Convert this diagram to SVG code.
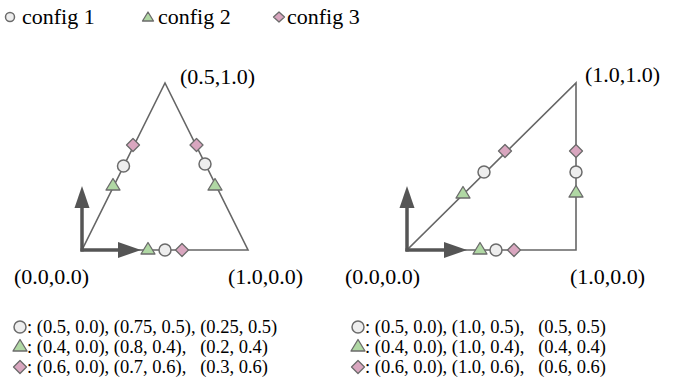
<svg xmlns="http://www.w3.org/2000/svg" xmlns:xlink="http://www.w3.org/1999/xlink" width="698" height="386" viewBox="0 0 698 386">
<style>
text{font-family:"Liberation Serif","Times New Roman",serif;fill:#000;white-space:pre}
.lbl{font-size:22px}
.leg{font-size:18.5px}
.edge{stroke:#666;stroke-width:1.6;fill:none}
.axis{stroke:#555;stroke-width:3.5;fill:none}
.head{fill:#555}
.c{fill:#eeeeee;stroke:#6b6b6b;stroke-width:1.5}
.t{fill:#b0d8a4;stroke:#6b6b6b;stroke-width:1.3;stroke-linejoin:round}
.d{fill:#d9a6bf;stroke:#6b6b6b;stroke-width:1.3;stroke-linejoin:round}
</style>
<defs>
<circle id="mc" class="c" cx="0" cy="0" r="6"/>
<polygon id="mt" class="t" points="0,-6.5 7,5 -7,5"/>
<polygon id="md" class="d" points="0,-6.5 6.5,0 0,6.5 -6.5,0"/>
</defs>

<g id="legend">
<circle class="c" cx="10" cy="17" r="4.5"/>
<text class="lbl" x="22" y="24">config 1</text>
<polygon class="t" points="148,12 153.5,21 142.5,21"/>
<text class="lbl" x="158" y="24">config 2</text>
<polygon class="d" points="279,12 284.5,17 279,22 273.5,17"/>
<text class="lbl" x="287" y="24">config 3</text>
</g>

<g id="connectors">
<polygon class="edge" points="82,250 248,250 165,83"/>
<polygon class="edge" points="407,250 576,250 576,83"/>
<line class="axis" x1="82" y1="251.5" x2="82" y2="206"/>
<polygon class="head" points="82,186 74.5,208 89.5,208"/>
<line class="axis" x1="80.5" y1="250" x2="120" y2="250"/>
<polygon class="head" points="141,250 118,242 118,258"/>
<line class="axis" x1="407" y1="251.5" x2="407" y2="206"/>
<polygon class="head" points="407,186 399.5,208 414.5,208"/>
<line class="axis" x1="405.5" y1="250" x2="446" y2="250"/>
<polygon class="head" points="467,250 444,242 444,258"/>
</g>

<g id="triangle-points">
<use xlink:href="#mt" x="148" y="249"/>
<use xlink:href="#mc" x="165" y="250"/>
<use xlink:href="#md" x="182" y="250"/>
<use xlink:href="#md" x="133" y="145"/>
<use xlink:href="#mc" x="123.5" y="166"/>
<use xlink:href="#mt" x="113" y="185"/>
<use xlink:href="#md" x="196.5" y="145"/>
<use xlink:href="#mc" x="205" y="164"/>
<use xlink:href="#mt" x="215" y="185"/>
</g>

<g id="square-points">
<use xlink:href="#mt" x="480" y="249"/>
<use xlink:href="#mc" x="496" y="250"/>
<use xlink:href="#md" x="514" y="250"/>
<use xlink:href="#md" x="576" y="151"/>
<use xlink:href="#mc" x="576" y="172"/>
<use xlink:href="#mt" x="576" y="192"/>
<use xlink:href="#md" x="505" y="151"/>
<use xlink:href="#mc" x="484" y="172"/>
<use xlink:href="#mt" x="463" y="193"/>
</g>

<g id="labels">
<text class="lbl" x="180" y="84">(0.5,1.0)</text>
<text class="lbl" x="14" y="284">(0.0,0.0)</text>
<text class="lbl" x="228" y="284">(1.0,0.0)</text>
<text class="lbl" x="585" y="82">(1.0,1.0)</text>
<text class="lbl" x="345" y="284">(0.0,0.0)</text>
<text class="lbl" x="570" y="284">(1.0,0.0)</text>
</g>

<g id="legend-left">
<use xlink:href="#mc" x="20" y="327"/>
<text class="leg" x="27" y="333">: (0.5, 0.0), (0.75, 0.5), (0.25, 0.5)</text>
<use xlink:href="#mt" x="20" y="346"/>
<text class="leg" x="27" y="353">: (0.4, 0.0), (0.8, 0.4),   (0.2, 0.4)</text>
<use xlink:href="#md" x="20" y="367"/>
<text class="leg" x="27" y="373">: (0.6, 0.0), (0.7, 0.6),   (0.3, 0.6)</text>
</g>

<g id="legend-right">
<use xlink:href="#mc" x="358" y="327"/>
<text class="leg" x="365" y="333">: (0.5, 0.0), (1.0, 0.5),   (0.5, 0.5)</text>
<use xlink:href="#mt" x="358" y="346"/>
<text class="leg" x="365" y="353">: (0.4, 0.0), (1.0, 0.4),   (0.4, 0.4)</text>
<use xlink:href="#md" x="358" y="367"/>
<text class="leg" x="365" y="373">: (0.6, 0.0), (1.0, 0.6),   (0.6, 0.6)</text>
</g>
</svg>
